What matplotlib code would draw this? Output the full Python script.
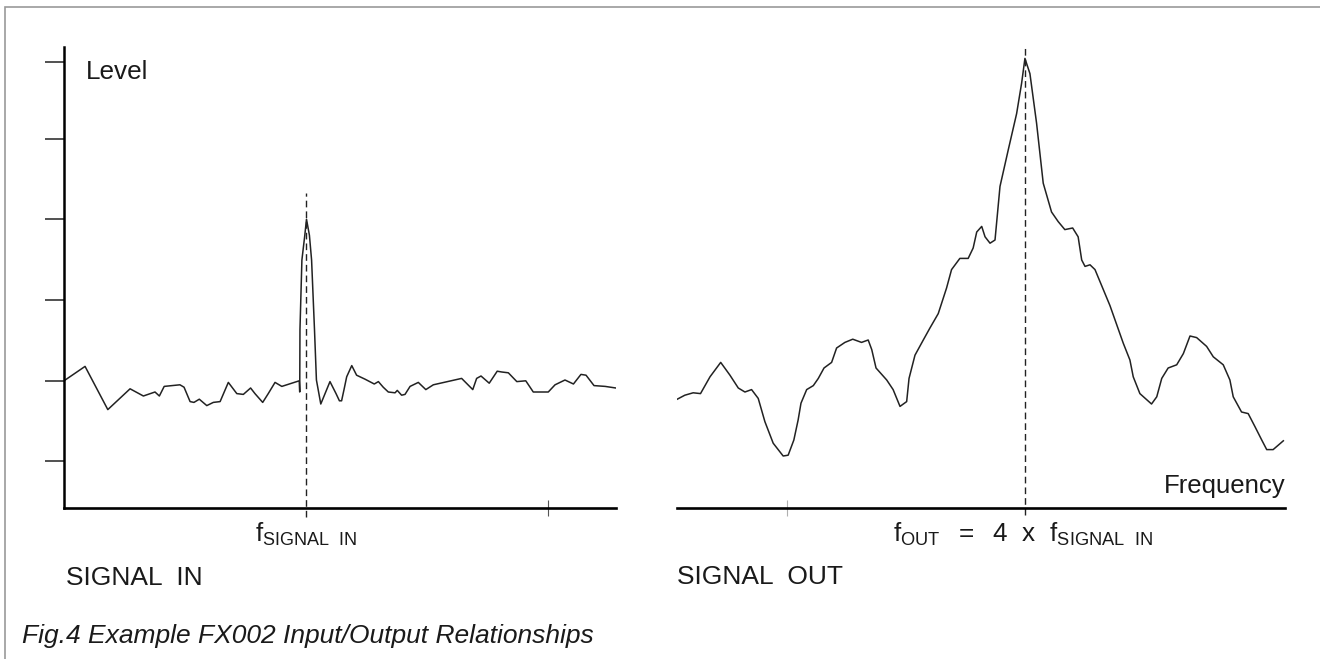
import matplotlib.pyplot as plt
from matplotlib.patches import Rectangle

plt.rcParams['font.family'] = ['Liberation Sans', 'DejaVu Sans']
plt.rcParams['mathtext.fontset'] = 'custom'
plt.rcParams['mathtext.rm'] = 'Liberation Sans'
plt.rcParams['mathtext.it'] = 'Liberation Sans:italic'

# frequency in multiples of f_SIGNAL_IN, level in arbitrary units (0 = frequency axis)
in_freq = [0.00, 0.087, 0.181, 0.273, 0.328, 0.376, 0.394, 0.414, 0.479, 0.496,
           0.521, 0.537, 0.559, 0.590, 0.617, 0.645, 0.679, 0.714, 0.741, 0.771,
           0.789, 0.821, 0.844, 0.872, 0.900, 0.972, 0.974, 0.975, 0.983, 0.995,
           1.002, 1.014, 1.023, 1.035, 1.043, 1.061, 1.099, 1.124, 1.138, 1.147,
           1.157, 1.168, 1.189, 1.209, 1.244, 1.282, 1.299, 1.319, 1.340, 1.368,
           1.377, 1.395, 1.409, 1.430, 1.464, 1.495, 1.526, 1.643, 1.689, 1.705,
           1.723, 1.757, 1.790, 1.809, 1.836, 1.871, 1.908, 1.939, 1.988, 2.001,
           2.029, 2.070, 2.105, 2.136, 2.157, 2.190, 2.236, 2.280]
in_level = [1.59, 1.77, 1.23, 1.49, 1.40, 1.45, 1.40, 1.52, 1.54, 1.51,
            1.33, 1.32, 1.36, 1.28, 1.32, 1.33, 1.57, 1.43, 1.42, 1.50,
            1.43, 1.32, 1.43, 1.57, 1.52, 1.59, 1.45, 2.23, 3.10, 3.41,
            3.61, 3.41, 3.10, 2.23, 1.60, 1.30, 1.58, 1.43, 1.34, 1.34,
            1.48, 1.64, 1.78, 1.66, 1.61, 1.55, 1.58, 1.51, 1.45, 1.44,
            1.47, 1.41, 1.42, 1.52, 1.57, 1.48, 1.54, 1.62, 1.48, 1.62,
            1.65, 1.56, 1.71, 1.70, 1.69, 1.58, 1.59, 1.45, 1.45, 1.45,
            1.54, 1.60, 1.55, 1.67, 1.66, 1.53, 1.52, 1.50]

out_freq = [2.536, 2.568, 2.603, 2.634, 2.674, 2.719, 2.758, 2.793, 2.821, 2.849,
            2.877, 2.905, 2.940, 2.982, 3.003, 3.027, 3.045, 3.057, 3.081, 3.109,
            3.130, 3.154, 3.186, 3.207, 3.242, 3.275, 3.312, 3.340, 3.355, 3.373,
            3.418, 3.445, 3.474, 3.502, 3.512, 3.537, 3.572, 3.600, 3.635, 3.670,
            3.691, 3.726, 3.761, 3.782, 3.797, 3.818, 3.832, 3.853, 3.874, 3.895,
            3.930, 3.965, 3.986, 4.000, 4.021, 4.049, 4.077, 4.112, 4.140, 4.168,
            4.201, 4.224, 4.239, 4.253, 4.274, 4.295, 4.358, 4.414, 4.442, 4.456,
            4.484, 4.533, 4.555, 4.576, 4.603, 4.639, 4.667, 4.695, 4.723, 4.765,
            4.793, 4.835, 4.863, 4.877, 4.912, 4.940, 4.968, 4.997, 5.018, 5.045,
            5.088]
out_level = [1.36, 1.41, 1.44, 1.43, 1.64, 1.82, 1.66, 1.50, 1.45, 1.48,
             1.37, 1.08, 0.81, 0.65, 0.66, 0.85, 1.10, 1.31, 1.48, 1.53,
             1.62, 1.75, 1.82, 2.00, 2.07, 2.11, 2.07, 2.10, 1.98, 1.75,
             1.60, 1.48, 1.27, 1.33, 1.62, 1.91, 2.10, 2.25, 2.43, 2.75,
             2.98, 3.12, 3.12, 3.25, 3.45, 3.52, 3.39, 3.31, 3.35, 4.02,
             4.48, 4.93, 5.31, 5.62, 5.43, 4.81, 4.06, 3.70, 3.58, 3.48,
             3.50, 3.39, 3.10, 3.02, 3.04, 2.98, 2.53, 2.06, 1.85, 1.64,
             1.43, 1.30, 1.39, 1.62, 1.75, 1.79, 1.93, 2.15, 2.13, 2.02,
             1.89, 1.79, 1.60, 1.39, 1.20, 1.18, 1.02, 0.85, 0.73, 0.73,
             0.84]

level_ticks = [0.59, 1.59, 2.6, 3.61, 4.61, 5.58]
f_in = 1.0
f_out = 4.0
in_freq_ticks = [2.0]
out_freq_ticks = [3.0]

W, H = 1320, 659
fig = plt.figure(figsize=(W / 100, H / 100), dpi=100)
fig.patch.set_facecolor('white')

# thin grey frame around the figure
fig.add_artist(Rectangle((5 / W, -0.1), 1.2, 1 - 7 / H + 0.1, transform=fig.transFigure,
                         fill=False, edgecolor='#9a9a9a', linewidth=1.2))

bottom = (H - 508) / H
height = 461 / H
ytop = 461 / 80

txt = '#1a1a1a'
fs = 18.5

# ---- SIGNAL IN ----
ax1 = fig.add_axes([64 / W, bottom, 551.8 / W, height])
ax1.plot(in_freq, in_level, color='#222222', lw=1.1)
ax1.axvline(f_in, ymin=-0.11 / ytop, ymax=3.94 / ytop, color='#222222', lw=1.0,
            dashes=(4.8, 2.9), clip_on=False)
ax1.set_xlim(0, 2.28)
ax1.set_ylim(0, ytop)
for s in ['top', 'right']:
    ax1.spines[s].set_visible(False)
ax1.spines['left'].set_linewidth(1.8)
ax1.spines['bottom'].set_linewidth(1.9)
ax1.set_yticks(level_ticks)
ax1.set_xticks(in_freq_ticks)
ax1.tick_params(axis='y', direction='out', length=13.5, width=1.2, color='#333333',
                labelleft=False)
ax1.tick_params(axis='x', direction='inout', length=11, width=0.8, color='#555555',
                labelbottom=False)
ax1.text(0.091, 5.36, 'Level', fontsize=18.8, color=txt, va='baseline')
ax1.text(f_in, -0.42, r'$\mathrm{f}_{\mathrm{SIGNAL\ \ IN}}$', fontsize=fs, color=txt,
         ha='center', va='baseline', clip_on=False)

# ---- SIGNAL OUT ----
ax2 = fig.add_axes([677 / W, bottom, 608 / W, height])
ax2.plot(out_freq, out_level, color='#222222', lw=1.1)
ax2.axvline(f_out, ymin=-0.09 / ytop, ymax=1.0, color='#222222', lw=1.0,
            dashes=(4.8, 2.9), clip_on=False)
ax2.set_xlim(2.535, 5.095)
ax2.set_ylim(0, ytop)
for s in ['top', 'right', 'left']:
    ax2.spines[s].set_visible(False)
ax2.spines['bottom'].set_linewidth(1.9)
ax2.set_yticks([])
ax2.set_xticks(out_freq_ticks)
ax2.tick_params(axis='x', direction='inout', length=11, width=0.8, color='#b0b0b0',
                labelbottom=False)
ax2.text(5.099, 0.19, 'Frequency', fontsize=fs, color=txt, ha='right', va='baseline')
ax2.text(f_out - 0.01, -0.42,
         r'$\mathrm{f}_{\mathrm{OUT}}\ \ \mathrm{=}\ \ \mathrm{4}\ \ \mathrm{x}\ \ '
         r'\mathrm{f}_{\mathrm{SIGNAL\ \ IN}}$',
         fontsize=18.8, color=txt, ha='center', va='baseline', clip_on=False)

fig.text(66 / W, 1 - 585 / H, 'SIGNAL  IN', fontsize=19, color=txt, va='baseline')
fig.text(677 / W, 1 - 584 / H, 'SIGNAL  OUT', fontsize=19, color=txt, va='baseline')
fig.text(22 / W, 1 - 643 / H, 'Fig.4 Example FX002 Input/Output Relationships',
         fontsize=19, style='italic', color=txt, va='baseline')

fig.savefig('out.png', dpi=100)
